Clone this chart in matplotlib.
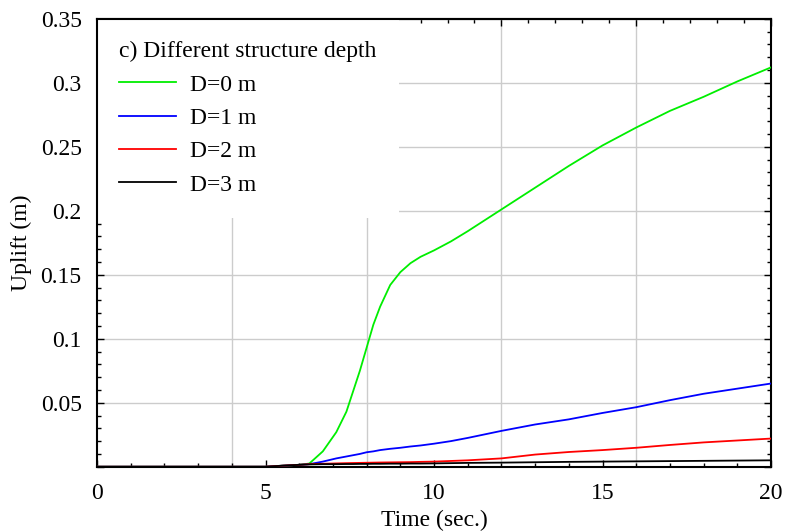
import matplotlib

matplotlib.use("Agg")
import matplotlib.pyplot as plt
from matplotlib.ticker import MultipleLocator, FixedLocator, FuncFormatter

# ── DATA ─────────────────────────────────────────────────────────────────────
time_s = [0, 5, 5.5, 6, 6.3, 6.7, 7.1, 7.4, 7.6, 7.8, 8.0, 8.2, 8.4, 8.7, 9.0,
          9.3, 9.6, 10, 10.5, 11, 12, 13, 14, 15, 16, 17, 18, 19, 20]

uplift_d0 = [0, 0, 0.0008, 0.0015, 0.0025, 0.012, 0.027, 0.043, 0.059, 0.075,
             0.093, 0.111, 0.125, 0.142, 0.152, 0.159, 0.164, 0.169, 0.176,
             0.184, 0.201, 0.218, 0.235, 0.251, 0.265, 0.278, 0.289, 0.301, 0.312]
uplift_d1 = [0, 0, 0.0008, 0.0015, 0.002, 0.004, 0.0065, 0.008, 0.009, 0.010,
             0.0113, 0.012, 0.013, 0.014, 0.0148, 0.0158, 0.0166, 0.018, 0.020,
             0.0225, 0.028, 0.033, 0.037, 0.042, 0.0465, 0.052, 0.057, 0.061, 0.065]
uplift_d2 = [0, 0, 0.0008, 0.0015, 0.002, 0.0023, 0.0026, 0.0028, 0.0029, 0.003,
             0.0031, 0.0032, 0.0033, 0.0034, 0.0035, 0.0036, 0.0038, 0.004, 0.0045,
             0.005, 0.0065, 0.0095, 0.0115, 0.013, 0.0148, 0.017, 0.019, 0.0205, 0.022]
uplift_d3 = [0, 0, 0.0008, 0.0015, 0.0018, 0.002, 0.002, 0.0021, 0.0021, 0.0022,
             0.0022, 0.0023, 0.0023, 0.0024, 0.0024, 0.0025, 0.0025, 0.0026, 0.0028,
             0.003, 0.0032, 0.0035, 0.0038, 0.004, 0.0042, 0.0044, 0.0046, 0.0048, 0.005]

series_labels = ["D=0 m", "D=1 m", "D=2 m", "D=3 m"]
series_colors = ["#00ee00", "#0000ff", "#ff0000", "#000000"]
legend_title = "c) Different structure depth"

# ── PLOT ─────────────────────────────────────────────────────────────────────
plt.rcParams["font.family"] = ["Liberation Serif", "DejaVu Serif"]
plt.rcParams["font.size"] = 17

fig = plt.figure(figsize=(7.85, 5.32), dpi=100)
ax = fig.add_axes([0.1236, 0.1227, 0.8586, 0.8421])

for y, label, color in zip(
    [uplift_d0, uplift_d1, uplift_d2, uplift_d3], series_labels, series_colors, strict=True
):
    ax.plot(time_s, y, color=color, lw=1.3, label=label, zorder=3)

ax.set_xlim(0, 20)
ax.set_ylim(0, 0.35)

# grid: vertical lines follow the top axis (every 4 s), horizontal every 0.05
for gx in [4, 8, 12, 16]:
    ax.axvline(gx, color="#cccccc", lw=1.0, zorder=0)
ax.yaxis.grid(True, color="#cccccc", lw=1.0, zorder=0)
ax.set_axisbelow(True)

ax.xaxis.set_major_locator(MultipleLocator(5))
ax.xaxis.set_minor_locator(MultipleLocator(1))
ax.yaxis.set_major_locator(MultipleLocator(0.05))
ax.yaxis.set_minor_locator(MultipleLocator(0.01))
ax.yaxis.set_major_formatter(FuncFormatter(lambda v, _: "" if abs(v) < 1e-9 else f"{v:g}"))

ax.tick_params(which="both", direction="in", top=False, right=True, width=1.0)
ax.tick_params(which="major", length=5, labelsize=17)
ax.tick_params(axis="x", which="major", pad=12)
ax.tick_params(axis="y", which="major", pad=11)
ax.tick_params(which="minor", length=3)

top = ax.secondary_xaxis("top")
top.xaxis.set_major_locator(FixedLocator([0, 4, 8, 12, 16, 20]))
top.xaxis.set_minor_locator(MultipleLocator(0.8))
top.tick_params(which="both", direction="in", labeltop=False, width=1.0)
top.tick_params(which="major", length=5)
top.tick_params(which="minor", length=3)
top.spines["top"].set_linewidth(1.5)

for sp in ax.spines.values():
    sp.set_linewidth(1.5)

ax.set_xlabel("Time (sec.)", labelpad=4)
ax.set_ylabel("Uplift (m)", labelpad=6)

leg = ax.legend(
    title=legend_title,
    loc="upper left",
    bbox_to_anchor=(0.0, 1.0),
    frameon=True,
    fancybox=False,
    edgecolor="none",
    facecolor="white",
    framealpha=1.0,
    handlelength=2.4,
    handletextpad=0.6,
    labelspacing=0.5,
    borderaxespad=0.0,
    borderpad=0.95,
    fontsize=17,
    title_fontsize=17,
)
leg._legend_box.align = "left"
leg.set_zorder(2)

fig.savefig("out.png", dpi=100)
